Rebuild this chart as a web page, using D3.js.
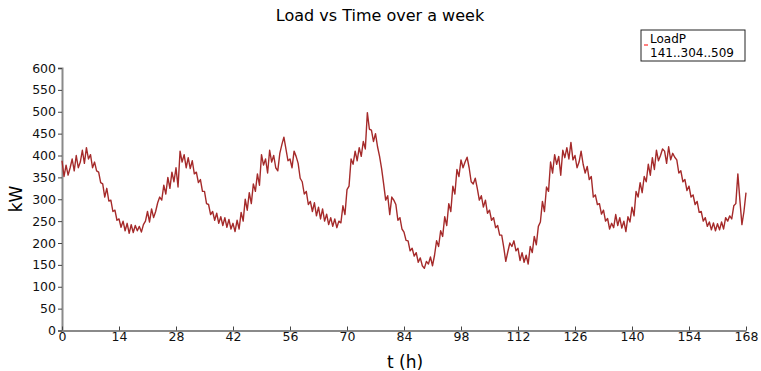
<!DOCTYPE html>
<html>
<head>
<meta charset="utf-8">
<script src="https://cdn.jsdelivr.net/npm/d3@7"></script>
<style>
  body { margin: 0; background: #fff; }
  text { font-family: "DejaVu Sans", sans-serif; }
</style>
</head>
<body>
<svg width="761" height="371"></svg>
<script>
// half-hourly load readings, t = 0, 0.5, ... 168 h
const loadP = [
  388, 352, 378, 355, 372, 392, 365, 400, 372, 385, 412, 382, 418, 392, 402, 372,
  385, 365, 362, 338, 335, 305, 325, 296, 298, 272, 275, 252, 255, 236, 250, 228,
  245, 222, 242, 224, 240, 228, 238, 225, 242, 250, 272, 248, 278, 258, 272, 292,
  305, 298, 332, 312, 350, 325, 362, 340, 372, 328, 410, 385, 402, 372, 395, 370,
  388, 358, 362, 338, 345, 318, 318, 290, 288, 265, 272, 252, 268, 245, 260, 240,
  258, 236, 254, 232, 245, 226, 252, 232, 270, 250, 300, 275, 315, 290, 335, 318,
  358, 332, 402, 378, 392, 360, 412, 385, 400, 372, 365, 405, 425, 442, 415, 388,
  392, 372, 410, 398, 382, 348, 340, 312, 318, 288, 295, 272, 292, 262, 282, 255,
  278, 250, 266, 242, 258, 238, 255, 235, 250, 246, 285, 265, 322, 330, 392, 380,
  410, 388, 418, 398, 432, 415, 498, 460, 458, 432, 450, 420, 398, 370, 335, 298,
  308, 265, 305, 298, 288, 252, 258, 232, 225, 206, 205, 182, 188, 170, 178, 156,
  166, 148, 142, 158, 152, 168, 148, 172, 205, 192, 228, 215, 260, 240, 290, 272,
  330, 312, 368, 352, 390, 372, 385, 396, 372, 340, 335, 348, 325, 298, 308, 282,
  298, 268, 275, 252, 258, 235, 240, 218, 218, 190, 158, 180, 200, 192, 205, 182,
  188, 160, 178, 156, 172, 152, 192, 178, 215, 196, 238, 248, 295, 272, 328, 318,
  385, 360, 402, 380, 398, 355, 412, 395, 418, 392, 430, 390, 400, 372, 385, 410,
  380, 360, 375, 345, 352, 305, 310, 288, 290, 266, 275, 250, 256, 232, 245, 235,
  265, 240, 258, 234, 250, 226, 260, 248, 282, 262, 318, 305, 338, 315, 352, 340,
  380, 355, 395, 368, 412, 388, 400, 415, 410, 382, 420, 390, 405, 396, 390, 360,
  365, 340, 345, 320, 330, 305, 310, 288, 295, 270, 272, 250, 258, 238, 248, 230,
  246, 228, 244, 230, 248, 232, 258, 250, 262, 255, 285, 290, 358, 298, 242, 272,
  315
];
const timeStep = 0.5;
const xTicks = [0, 14, 28, 42, 56, 70, 84, 98, 112, 126, 140, 154, 168];
const yTicks = [0, 50, 100, 150, 200, 250, 300, 350, 400, 450, 500, 550, 600];
const legendLabel = 'LoadP';
const legendStats = '141..304..509';

const svg = d3.select('svg');
const lineColor = '#a52a2a';
const axisColor = '#8a8a8a';

const x = d3.scaleLinear().domain([0, 168]).range([62, 746]);
const y = d3.scaleLinear().domain([0, 600]).range([330.5, 68]);

// title
svg.append('text')
  .attr('x', 380).attr('y', 21)
  .attr('text-anchor', 'middle')
  .attr('font-size', 16)
  .text('Load vs Time over a week');

// y axis
const yAxis = svg.append('g')
  .attr('transform', `translate(${x(0)},0)`)
  .call(d3.axisLeft(y).tickValues(yTicks).tickSize(4).tickPadding(2));

// x axis, ticks pointing up
const xAxis = svg.append('g')
  .attr('transform', `translate(0,${y(0)})`)
  .call(d3.axisBottom(x).tickValues(xTicks).tickSizeInner(-4).tickSizeOuter(0).tickPadding(3));

[xAxis, yAxis].forEach((a) => {
  a.select('.domain').attr('stroke', axisColor).attr('stroke-width', 2);
  a.selectAll('.tick line').attr('stroke', '#444');
  a.selectAll('.tick text')
    .attr('font-family', '"DejaVu Sans", sans-serif')
    .attr('font-size', 12.5)
    .attr('fill', '#111');
});
xAxis.selectAll('.tick text').attr('dy', '0.6em');

// axis titles
svg.append('text')
  .attr('x', 405).attr('y', 368)
  .attr('text-anchor', 'middle')
  .attr('font-size', 17)
  .text('t (h)');

svg.append('text')
  .attr('transform', 'translate(22,199) rotate(-90)')
  .attr('text-anchor', 'middle')
  .attr('font-size', 17)
  .text('kW');

// the load curve
const line = d3.line()
  .x((d, i) => x(i * timeStep))
  .y((d) => y(d));

svg.append('path')
  .datum(loadP)
  .attr('fill', 'none')
  .attr('stroke', lineColor)
  .attr('stroke-width', 1.4)
  .attr('stroke-linejoin', 'round')
  .attr('d', line);

// legend
const legend = svg.append('g').attr('transform', 'translate(641,30)');
legend.append('rect')
  .attr('width', 104).attr('height', 31)
  .attr('fill', '#fff')
  .attr('stroke', '#222');
legend.append('line')
  .attr('x1', 3).attr('x2', 7).attr('y1', 15).attr('y2', 15)
  .attr('stroke', 'red').attr('stroke-width', 1);
legend.append('text')
  .attr('x', 9).attr('y', 13)
  .attr('font-size', 12)
  .text(legendLabel);
legend.append('text')
  .attr('x', 9).attr('y', 27)
  .attr('font-size', 12)
  .text(legendStats);
</script>
</body>
</html>
